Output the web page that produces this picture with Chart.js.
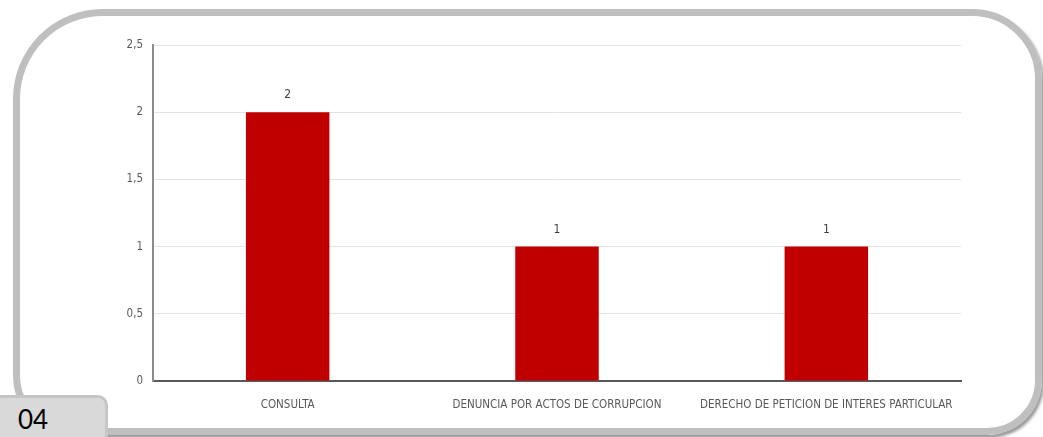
<!DOCTYPE html>
<html>
<head>
<meta charset="utf-8">
<script src="https://cdn.jsdelivr.net/npm/chart.js@4/dist/chart.umd.min.js"></script>
<style>
  html, body { margin: 0; padding: 0; background: #fff; }
  body { width: 1043px; height: 437px; position: relative; overflow: hidden; }
  .frame {
    position: absolute; left: 13px; top: 9px; width: 1029px; height: 426px;
    box-sizing: border-box; border: 7px solid #bfbfbf;
    border-radius: 90px 70px 55px 60px;
    box-shadow: 2px 3px 3px rgba(0,0,0,0.4);
  }
  .tab {
    position: absolute; left: -4px; top: 395px; width: 112px; height: 48px;
    box-sizing: border-box; background: #d9d9d9; border: 3px solid #c6c6c6;
    border-top-right-radius: 10px;
    font-family: Lato, "Open Sans", sans-serif; font-size: 26px; color: #000;
  }
  .tab span { position: absolute; left: 19px; top: 5px; }
  canvas { position: absolute; left: 0; top: 0; }
</style>
</head>
<body>
<div class="frame"></div>
<canvas id="c" width="1043" height="437"></canvas>
<div class="tab"><span>04</span></div>
<script>
const categories = ["CONSULTA", "DENUNCIA POR ACTOS DE CORRUPCION", "DERECHO DE PETICION DE INTERES PARTICULAR"];
const values = [2, 1, 1];
const yMax = 2.5;
const yStep = 0.5;

const labelFont = '"Liberation Sans Narrow", "DejaVu Sans Condensed", sans-serif';

const valueLabels = {
  id: 'valueLabels',
  afterDatasetsDraw(chart) {
    const ctx = chart.ctx;
    ctx.save();
    ctx.font = '12px ' + labelFont;
    ctx.fillStyle = '#404040';
    ctx.textAlign = 'center';
    ctx.textBaseline = 'middle';
    chart.getDatasetMeta(0).data.forEach((el, i) => {
      ctx.fillText(String(chart.data.datasets[0].data[i]).replace('.', ','), el.x, el.y - 17);
    });
    ctx.restore();
  }
};

new Chart(document.getElementById('c'), {
  type: 'bar',
  data: {
    labels: categories,
    datasets: [{
      data: values,
      backgroundColor: '#c00000',
      borderWidth: 0,
      categoryPercentage: 1,
      barPercentage: 0.31
    }]
  },
  options: {
    responsive: false,
    animation: false,
    layout: { padding: { left: 110, top: 45, right: 82, bottom: 0 } },
    plugins: { legend: { display: false }, tooltip: { enabled: false } },
    scales: {
      x: {
        grid: { display: false },
        border: { color: '#595959', width: 2 },
        ticks: { color: '#595959', font: { family: labelFont, size: 11.5 }, padding: 9, maxRotation: 0, autoSkip: false },
        afterFit(s) { s.height = 56; }
      },
      y: {
        min: 0, max: yMax,
        grid: { color: '#e3e3e3', lineWidth: 1, drawTicks: false },
        border: { color: '#8c8c8c', width: 2 },
        ticks: {
          stepSize: yStep, color: '#595959', font: { family: labelFont, size: 11.5 }, padding: 10,
          callback: v => String(v).replace('.', ',')
        },
        afterFit(s) { s.width = 43; }
      }
    }
  },
  plugins: [valueLabels]
});
</script>
</body>
</html>
